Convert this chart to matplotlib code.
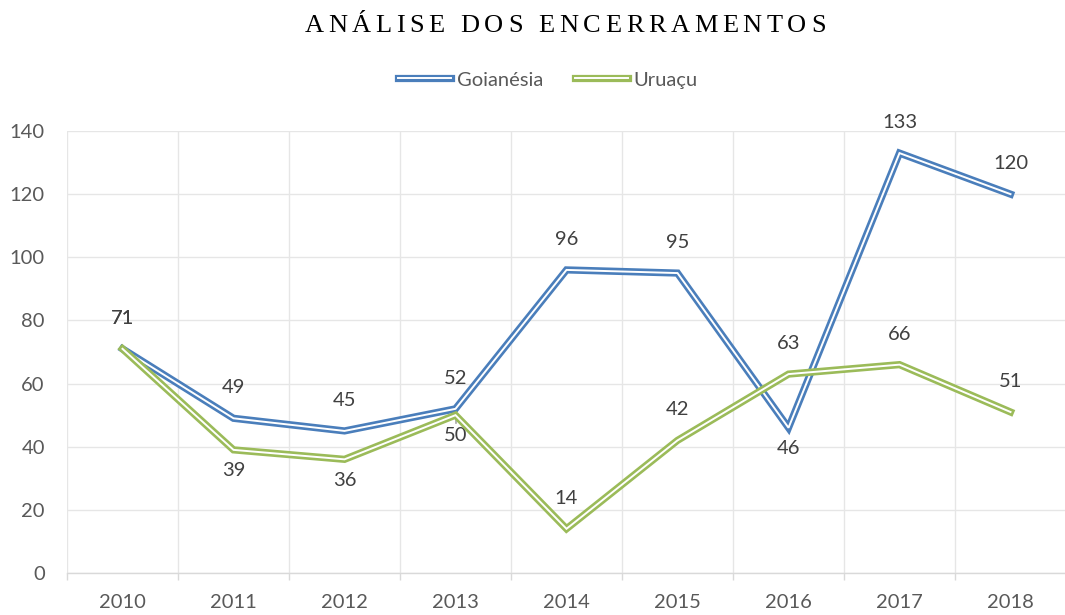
import matplotlib
matplotlib.use("Agg")
import matplotlib.pyplot as plt
import matplotlib.patheffects as pe
from matplotlib.ticker import MultipleLocator, FixedLocator

# ----------------------------------------------------------
# DADOS
# ----------------------------------------------------------
anos = ["2010", "2011", "2012", "2013", "2014", "2015", "2016", "2017", "2018"]
goianesia = [71, 49, 45, 52, 96, 95, 46, 133, 120]
uruacu = [71, 39, 36, 50, 14, 42, 63, 66, 51]

# posicao dos rotulos (1 = acima, -1 = abaixo)
pos_goi = [1, 1, 1, 1, 1, 1, -1, 1, 1]
pos_uru = [1, -1, -1, -1, 1, 1, 1, 1, 1]

AZUL = "#4a7ebb"
VERDE = "#9bbb59"
CINZA = "#595959"
FS = 14.5

plt.rcParams["font.family"] = ["Lato", "DejaVu Sans"]

fig = plt.figure(figsize=(10.65, 6.15), dpi=100)
ax = fig.add_axes([67 / 1065, 1 - 573 / 615, 999 / 1065, (573 - 131) / 615])

x = list(range(len(anos)))

def linha_dupla(valores, cor, rotulo, z):
    ax.plot(
        x, valores, color="white", linewidth=1.4, label=rotulo, zorder=z,
        solid_joinstyle="miter", clip_on=False,
        path_effects=[pe.Stroke(linewidth=5.2, foreground=cor), pe.Normal()],
    )

linha_dupla(goianesia, AZUL, "Goianésia", 3)
linha_dupla(uruacu, VERDE, "Uruaçu", 4)

for serie, pos in [(goianesia, pos_goi), (uruacu, pos_uru)]:
    for xi, v, p in zip(x, serie, pos):
        ax.annotate(str(v), (xi, v), xytext=(0, 22 if p > 0 else -15),
                    textcoords="offset points", ha="center", va="center",
                    fontsize=FS, color="#404040")

# marcador do rotulo 50
ax.plot([3, 3], [47.5, 50], color="#a6a6a6", linewidth=1.2, zorder=2)

ax.set_xlim(-0.5, len(anos) - 0.5)
ax.set_ylim(0, 140)
ax.yaxis.set_major_locator(MultipleLocator(20))
ax.set_xticks(x)
ax.set_xticklabels(anos)
ax.xaxis.set_minor_locator(FixedLocator([i - 0.5 for i in range(len(anos) + 1)]))

ax.grid(which="major", axis="y", color="#e6e6e6", linewidth=1)
ax.grid(which="minor", axis="x", color="#e6e6e6", linewidth=1)
ax.set_axisbelow(True)

for s in ["top", "right", "left"]:
    ax.spines[s].set_visible(False)
ax.spines["bottom"].set_color("#d9d9d9")
ax.spines["bottom"].set_linewidth(1)

ax.tick_params(axis="y", length=0, labelsize=FS, labelcolor=CINZA, pad=16)
ax.tick_params(axis="x", which="major", length=0, labelsize=FS,
               labelcolor=CINZA, pad=15)
ax.tick_params(axis="x", which="minor", length=5, color="#d9d9d9", width=1)

# titulo com espacamento entre letras
titulo = "ANÁLISE DOS ENCERRAMENTOS"
renderer = fig.canvas.get_renderer()
esp = 4.6  # px entre letras
larguras = []
for ch in titulo:
    t = fig.text(0, 0, ch, fontsize=19, family="Liberation Serif")
    larguras.append(t.get_window_extent(renderer).width)
    t.remove()
total = sum(larguras) + esp * (len(titulo) - 1)
xpos = 565 - total / 2
for ch, w in zip(titulo, larguras):
    fig.text(xpos / 1065, 1 - 26 / 615, ch, fontsize=19,
             family="Liberation Serif", color="black", va="center", ha="left")
    xpos += w + esp

leg = fig.legend(loc="center", bbox_to_anchor=(548 / 1065, 1 - 80 / 615),
                 ncol=2, frameon=False, fontsize=FS, handlelength=2.6,
                 columnspacing=1.6, handletextpad=0.3)
for t in leg.get_texts():
    t.set_color(CINZA)

fig.savefig("out.png", dpi=100)
